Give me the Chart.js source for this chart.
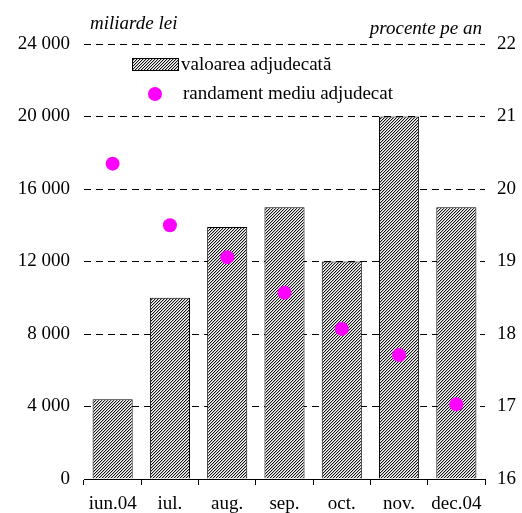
<!DOCTYPE html>
<html><head><meta charset="utf-8">
<script src="https://cdn.jsdelivr.net/npm/chart.js@4"></script>
<style>html,body{margin:0;padding:0;background:#fff}#wrap{width:522px;height:513px;position:relative}</style>
</head>
<body><div id="wrap"><canvas id="c" width="522" height="513"></canvas></div>
<script>
const categories = ['iun.04','iul.','aug.','sep.','oct.','nov.','dec.04'];
const valoare = [4400,10000,13900,15000,12000,20000,15000];
const randament = [20.35,19.5,19.06,18.57,18.07,17.71,17.03];
const leftTicks = [0,4000,8000,12000,16000,20000,24000];
const rightTicks = [16,17,18,19,20,21,22];
const legendLabels = ['valoarea adjudecată','randament mediu adjudecat'];
const axisTitles = ['miliarde lei','procente pe an'];

const FONT = '"Liberation Serif","Times New Roman",serif';
const canvas = document.getElementById('c');
const ctx = canvas.getContext('2d');

function makePattern(){
  const c = document.createElement('canvas'); c.width = 3; c.height = 3;
  const g = c.getContext('2d');
  g.fillStyle = '#fff'; g.fillRect(0,0,3,3);
  for (let x=0;x<3;x++) for (let y=0;y<3;y++){
    const k=(x+y)%3;
    if (k===0){ g.fillStyle='#111'; g.fillRect(x,y,1,1); }
    else if (k===1){ g.fillStyle='#bbb'; g.fillRect(x,y,1,1); }
  }
  return ctx.createPattern(c,'repeat');
}
const hatch = makePattern();
const fmt = v => String(v).replace(/\B(?=(\d{3})+(?!\d))/g,' ');

const overlay = {
  id:'overlay',
  afterDraw(chart){
    const g = chart.ctx;
    g.save();
    g.fillStyle = '#000';
    g.font = 'italic 19px ' + FONT;
    g.textBaseline = 'alphabetic';
    g.textAlign = 'left';
    g.fillText(axisTitles[0], 90, 29);
    g.textAlign = 'right';
    g.fillText(axisTitles[1], 482, 34);
    // legend
    g.fillStyle = hatch;
    g.fillRect(132, 58, 47, 13);
    g.strokeStyle = '#000'; g.lineWidth = 1;
    g.strokeRect(132.5, 58.5, 46, 12);
    g.fillStyle = '#ff00ff';
    g.beginPath(); g.arc(155, 94, 7, 0, Math.PI*2); g.fill();
    g.fillStyle = '#000';
    g.font = '19px ' + FONT;
    g.textAlign = 'left'; g.textBaseline = 'middle';
    g.fillText(legendLabels[0], 181, 65);
    g.fillText(legendLabels[1], 183, 94);
    g.restore();
  }
};

new Chart(canvas, {
  data: {
    labels: categories,
    datasets: [
      { type:'line', label: legendLabels[1], data: randament, yAxisID:'y1', showLine:false,
        pointRadius:7, pointHoverRadius:7, pointBackgroundColor:'#ff00ff', pointBorderWidth:0, order:0 },
      { type:'bar', label: legendLabels[0], data: valoare, yAxisID:'y', backgroundColor: hatch,
        borderColor:'#000', borderWidth:1, barPercentage:0.7, categoryPercentage:1, order:1 }
    ]
  },
  options: {
    responsive:false, animation:false, devicePixelRatio:1,
    layout:{ padding:{ top:44, left:0, right:0, bottom:0 } },
    plugins:{ legend:{display:false}, tooltip:{enabled:false}, title:{display:false} },
    scales:{
      x:{
        type:'category', offset:true,
        grid:{ offset:true, drawOnChartArea:false, color:'#000', tickColor:'#000', tickLength:6, lineWidth:1 },
        border:{ display:true, color:'#000', width:1 },
        ticks:{ color:'#000', font:{ family:FONT, size:19 }, padding:8, maxRotation:0, autoSkip:false },
        afterFit: s => { s.height = 34; }
      },
      y:{
        position:'left', min:0, max:24000,
        afterBuildTicks: s => { s.ticks = leftTicks.map(v => ({value:v})); },
        grid:{ color: c => (c.tick && c.tick.value === 0) ? 'rgba(0,0,0,0)' : '#000', drawTicks:false, lineWidth:1 },
        border:{ display:false, dash:[7,5] },
        ticks:{ color:'#000', font:{ family:FONT, size:19 }, padding:14, callback: v => fmt(v) },
        afterFit: s => { s.width = 84; }
      },
      y1:{
        position:'right', min:16, max:22,
        afterBuildTicks: s => { s.ticks = rightTicks.map(v => ({value:v})); },
        grid:{ drawOnChartArea:false, drawTicks:false },
        border:{ display:false },
        ticks:{ color:'#000', font:{ family:FONT, size:19 }, padding:12, callback: v => String(v) },
        afterFit: s => { s.width = 37; }
      }
    }
  },
  plugins:[overlay]
});
</script>
</body></html>
